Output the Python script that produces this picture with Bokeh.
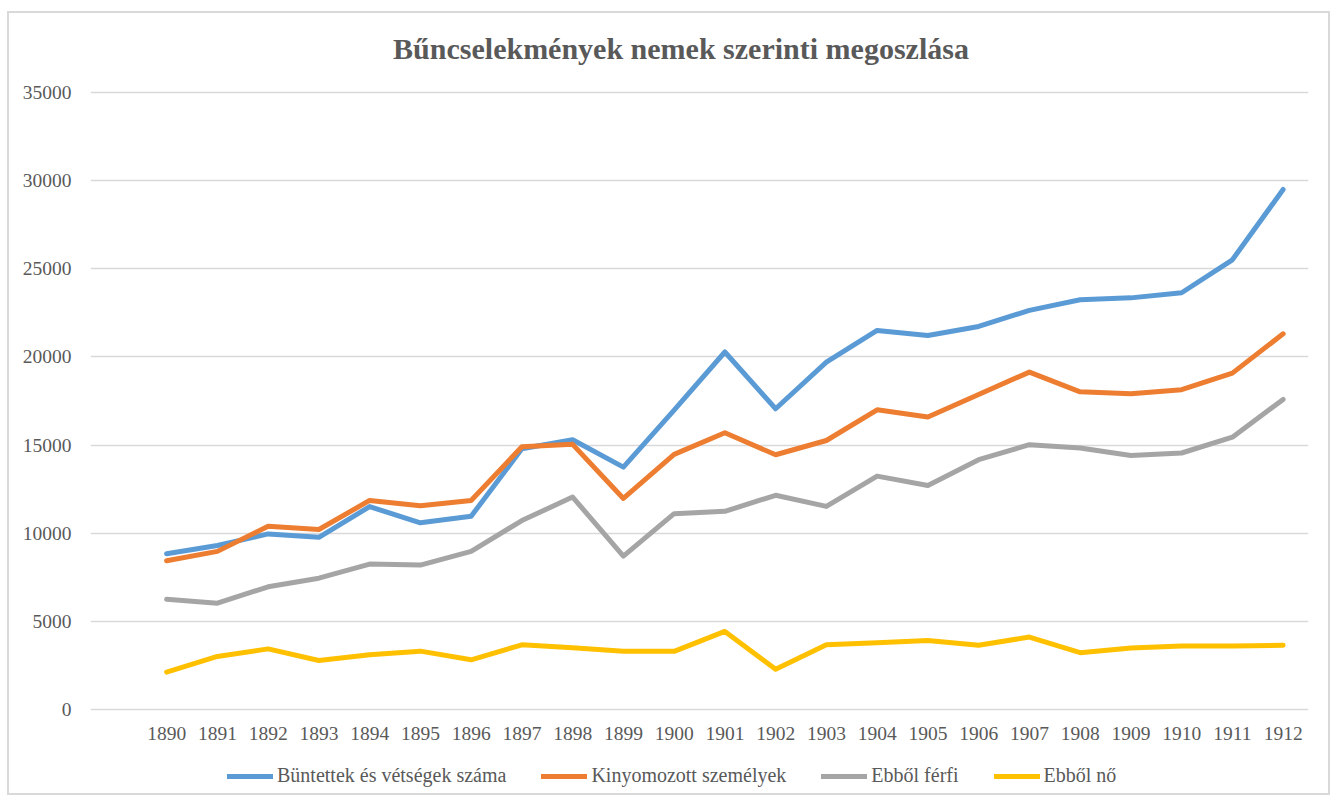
from bokeh.plotting import figure
from bokeh.models import Range1d, FixedTicker, Legend, LegendItem, ColumnDataSource, Label
from bokeh.embed import file_html
from bokeh.resources import INLINE

title_text = "Bűncselekmények nemek szerinti megoszlása"

years = [1890, 1891, 1892, 1893, 1894, 1895, 1896, 1897, 1898, 1899, 1900, 1901,
         1902, 1903, 1904, 1905, 1906, 1907, 1908, 1909, 1910, 1911, 1912]

buntettek = [8830, 9300, 9960, 9770, 11510, 10590, 10960, 14790, 15300, 13750, 16980, 20280,
             17060, 19700, 21500, 21220, 21730, 22640, 23240, 23350, 23640, 25510, 29500]
kinyomozott = [8440, 8970, 10400, 10210, 11860, 11560, 11860, 14900, 15040, 11970, 14470, 15700,
               14450, 15260, 17000, 16590, 17870, 19140, 18020, 17910, 18140, 19080, 21310]
ferfi = [6250, 6030, 6960, 7450, 8250, 8190, 8970, 10720, 12050, 8700, 11110, 11240,
         12150, 11520, 13240, 12710, 14170, 15020, 14830, 14410, 14550, 15450, 17590]
no = [2120, 3010, 3440, 2780, 3110, 3310, 2820, 3670, 3500, 3300, 3300, 4430,
      2280, 3680, 3790, 3920, 3640, 4110, 3220, 3490, 3600, 3600, 3640]

series_names = ["Büntettek és vétségek száma", "Kinyomozott személyek", "Ebből férfi", "Ebből nő"]
series_values = [buntettek, kinyomozott, ferfi, no]
series_colors = ["#5B9BD5", "#ED7D31", "#A5A5A5", "#FFC000"]

y_ticks = [0, 5000, 10000, 15000, 20000, 25000, 30000, 35000]

FONT = "Liberation Serif"
TXT = "#595959"

# layout (pixels)
W, H = 1323, 784
TOP, BOTTOM, LEFT, RIGHT = 0, 4, 81, 24
VALUE_PX = 617          # pixel height of the 0..35000 band
ABOVE_PX = 79           # room above the 35000 line (title area)
frame_h = H - TOP - BOTTOM
frame_w = W - LEFT - RIGHT
px_per_val = VALUE_PX / y_ticks[-1]
y_end = y_ticks[-1] + ABOVE_PX / px_per_val
y_start = -(frame_h - VALUE_PX - ABOVE_PX) / px_per_val   # room below 0 for the legend
x0, x1 = years[0] - 1.5, years[-1] + 0.5
px_per_year = frame_w / (x1 - x0)

p = figure(width=W, height=H, output_backend="svg", toolbar_location=None,
           x_range=Range1d(x0, x1), y_range=Range1d(y_start, y_end),
           min_border_left=LEFT, min_border_right=RIGHT,
           min_border_top=TOP, min_border_bottom=BOTTOM)
p.styles = {"border": "2px solid #d9d9d9"}
p.margin = (11, 0, 0, 7)
p.outline_line_color = None
p.background_fill_color = "white"
p.border_fill_color = "white"

# title, centred 44 px above the top grid line, 590 px right of the plot's left edge
title = Label(x=x0 + 590.5 / px_per_year, y=y_ticks[-1] + 44 / px_per_val,
              text=title_text, text_align="center", text_baseline="middle",
              text_font=FONT, text_font_size="30px", text_font_style="bold",
              text_color=TXT)
p.add_layout(title)

p.xaxis.ticker = FixedTicker(ticks=years)
p.xaxis.fixed_location = 0
p.yaxis.ticker = FixedTicker(ticks=y_ticks)
for ax in (p.xaxis, p.yaxis):
    ax.axis_line_color = None
    ax.major_tick_line_color = None
    ax.minor_tick_line_color = None
    ax.major_label_text_font = FONT
    ax.major_label_text_font_size = "19.5px"
    ax.major_label_text_color = TXT
p.xaxis.major_label_standoff = 11
p.yaxis.major_label_standoff = 13

p.xgrid.grid_line_color = None
p.ygrid.grid_line_color = "#d9d9d9"
p.ygrid.grid_line_width = 1.5

items = []
for name, vals, col in zip(series_names, series_values, series_colors):
    src = ColumnDataSource(dict(x=years, y=vals))
    r = p.line("x", "y", source=src, line_color=col, line_width=5,
               line_cap="round", line_join="round")
    items.append(LegendItem(label=name, renderers=[r]))

legend = Legend(items=items, orientation="horizontal", location=(137, 6),
                glyph_width=46, glyph_height=20, label_height=20, label_standoff=4,
                spacing=35, padding=0, margin=0,
                label_text_font=FONT, label_text_font_size="20px", label_text_color=TXT,
                border_line_alpha=0, background_fill_alpha=0)
p.add_layout(legend, "center")

open("out.html", "w").write(file_html(p, INLINE))
